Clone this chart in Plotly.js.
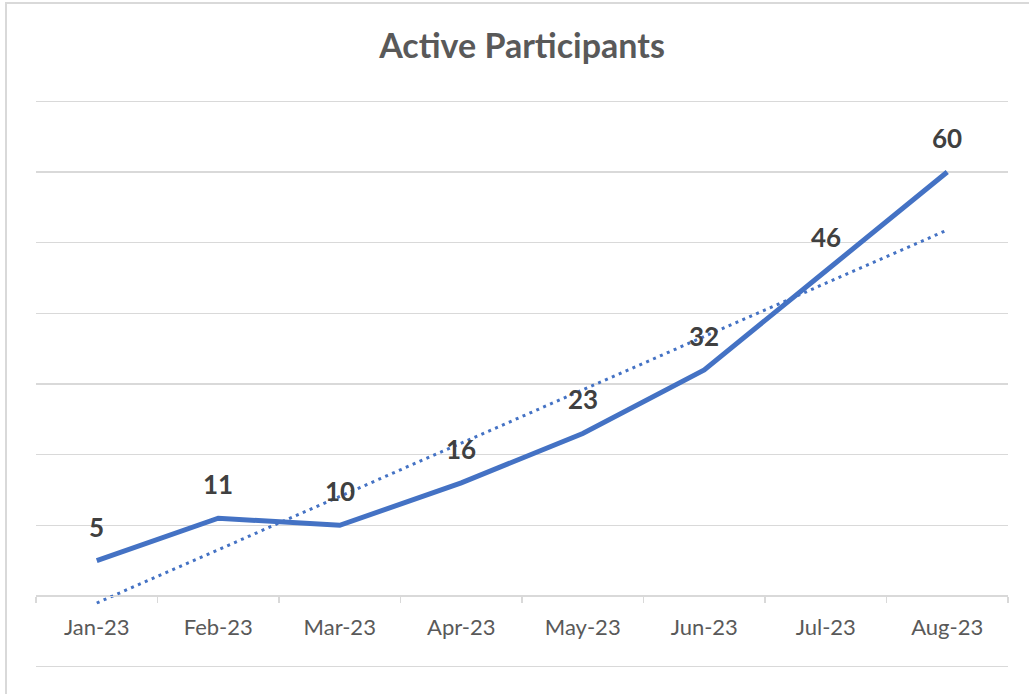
<!DOCTYPE html>
<html>
<head>
<meta charset="utf-8">
<script src="https://cdn.plot.ly/plotly-3.0.1.min.js"></script>
<style>
  html, body { margin: 0; padding: 0; overflow: hidden; background: #ffffff; }
  #frame { position: absolute; left: 5px; top: 2px; width: 3000px; height: 3000px;
           border: 2px solid #d9d9d9; z-index: 0; }
  #chart { position: absolute; left: 0; top: 0; width: 1029px; height: 694px; z-index: 1; }
</style>
</head>
<body>
<div id="frame"></div>
<div id="chart"></div>
<script>
// Data
const months = ["Jan-23", "Feb-23", "Mar-23", "Apr-23", "May-23", "Jun-23", "Jul-23", "Aug-23"];
const participants = [5, 11, 10, 16, 23, 32, 46, 60];
// Linear trendline endpoints (first and last month)
const trendMonths = ["Jan-23", "Aug-23"];
const trendValues = [-1.0, 51.8];

const FONT = "Lato, sans-serif";
const BLUE = "#4472C4";
const GRID = "#d9d9d9";

const traces = [
  {
    x: trendMonths, y: trendValues, type: "scatter", mode: "lines",
    line: { color: BLUE, width: 3, dash: "3px,4.5px" },
    hoverinfo: "skip", showlegend: false
  },
  {
    x: months, y: participants, type: "scatter", mode: "lines",
    line: { color: BLUE, width: 5 },
    showlegend: false
  }
];

const annotations = months.map((m, i) => ({
  x: m, y: participants[i], xref: "x", yref: "y",
  text: "<b>" + participants[i] + "</b>", showarrow: false,
  yanchor: "middle", xanchor: "center", yshift: 34,
  font: { family: FONT, size: 26, color: "#404040" }
}));

const layout = {
  width: 1029, height: 694,
  margin: { l: 36, r: 21, t: 100, b: 26, pad: 0 },
  paper_bgcolor: "rgba(0,0,0,0)", plot_bgcolor: "rgba(0,0,0,0)",
  title: {
    text: "<b>Active Participants</b>",
    font: { family: FONT, size: 34, color: "#595959" },
    x: 0.5, xanchor: "center", xref: "paper",
    y: 1 - 46 / 694, yanchor: "middle", yref: "container"
  },
  xaxis: {
    type: "category", categoryorder: "array", categoryarray: months,
    anchor: "free", position: 10.2 / 80.4,
    showline: true, linecolor: GRID, linewidth: 1.5,
    showgrid: false, zeroline: false,
    tickson: "boundaries", ticks: "outside", ticklen: 6, tickcolor: GRID, tickwidth: 1.5,
    tickfont: { family: FONT, size: 22, color: "#595959" },
    ticklabelstandoff: 11,
    range: [-0.5, 7.5], fixedrange: true
  },
  yaxis: {
    range: [-10.2, 70.2], dtick: 10, tick0: 0,
    showgrid: true, gridcolor: GRID, gridwidth: 1.5,
    zeroline: false, showline: false, showticklabels: false, ticks: "",
    fixedrange: true
  },
  annotations: annotations,
  showlegend: false
};

Plotly.newPlot("chart", traces, layout, { displayModeBar: false, staticPlot: true });
</script>
</body>
</html>
